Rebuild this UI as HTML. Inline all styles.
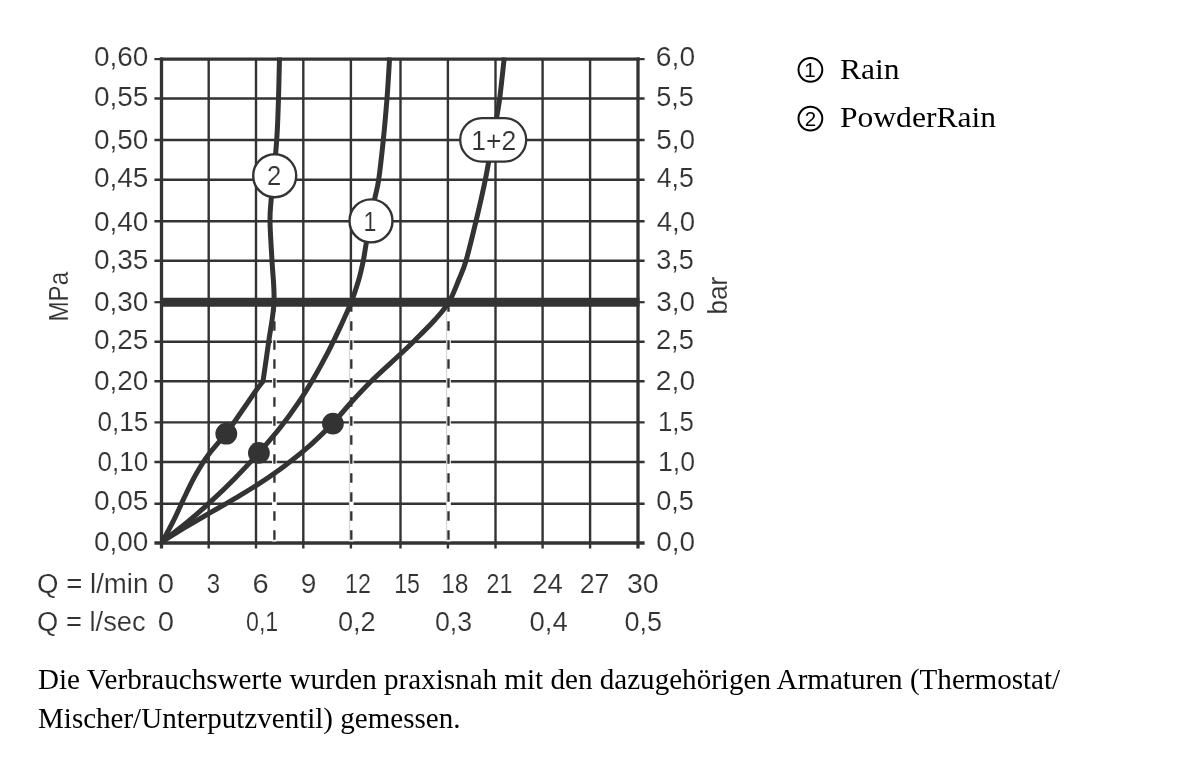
<!DOCTYPE html>
<html lang="de"><head><meta charset="utf-8"><title>Durchflussdiagramm</title>
<style>
html,body{margin:0;padding:0;background:#fff}
body{width:1200px;height:765px;position:relative;overflow:hidden;font-family:"Liberation Serif",serif;color:#000}
.t{position:absolute;white-space:nowrap;line-height:1}
.t{transform-origin:0 0}
.leg{font-size:30px;left:840px;transform:scaleX(1.052)}
.body{font-size:28.6px;left:37.9px;transform:scaleX(1.0174)}
</style></head><body>
<svg width="1200" height="765" viewBox="0 0 1200 765" style="position:absolute;left:0;top:0">
<g fill="none" stroke="#333333" stroke-width="2.4">
<path d="M154.4 98.5H644.6"/>
<path d="M154.4 140.0H644.6"/>
<path d="M154.4 179.7H644.6"/>
<path d="M154.4 221.2H644.6"/>
<path d="M154.4 260.7H644.6"/>
<path d="M154.4 341.7H644.6"/>
<path d="M154.4 381.2H644.6"/>
<path d="M154.4 422.4H644.6"/>
<path d="M154.4 462.0H644.6"/>
<path d="M154.4 503.7H644.6"/>
<path d="M208.7 59V548.6"/>
<path d="M256.0 59V548.6"/>
<path d="M303.3 59V548.6"/>
<path d="M350.9 59V548.6"/>
<path d="M400.5 59V548.6"/>
<path d="M447.9 59V548.6"/>
<path d="M495.5 59V548.6"/>
<path d="M542.6 59V548.6"/>
<path d="M590.1 59V548.6"/>
</g>
<g fill="none" stroke="#333333">
<path d="M154.4 59.1H161" stroke-width="2.2"/>
<path d="M638 59.1H644.6" stroke-width="2.2"/>
<path d="M159.85 59.1H639.65" stroke-width="3.4"/>
<path d="M154.4 543.0H644.6" stroke-width="3.3"/>
<path d="M161.5 57.5V548.6" stroke-width="3.3"/>
<path d="M638 57.5V548.6" stroke-width="3.3"/>
<path d="M154.4 302.2H161" stroke-width="2.2"/>
<path d="M160 302.2H639.5" stroke-width="9"/>
<path d="M638 302.2H644.6" stroke-width="2.2"/>
</g>
<path d="M274.4 307V541.4" stroke="#fff" stroke-width="4.6" fill="none"/>
<path d="M274.4 302.2V543" stroke="#333333" stroke-width="2.35" stroke-dasharray="9.6 9.4" fill="none"/>
<path d="M351.3 307V541.4" stroke="#fff" stroke-width="4.6" fill="none"/>
<path d="M349.40000000000003 307V541.4" stroke="#c4c4c4" stroke-width="0.8" fill="none"/>
<path d="M351.3 302.2V543" stroke="#333333" stroke-width="2.35" stroke-dasharray="9.6 9.4" fill="none"/>
<path d="M448.5 307V541.4" stroke="#fff" stroke-width="4.6" fill="none"/>
<path d="M446.6 307V541.4" stroke="#c4c4c4" stroke-width="0.8" fill="none"/>
<path d="M448.5 302.2V543" stroke="#333333" stroke-width="2.35" stroke-dasharray="9.6 9.4" fill="none"/>
<g fill="none" stroke="#333333" stroke-width="5" stroke-linejoin="round" stroke-linecap="butt">
<path d="M162.5 541.5C164.4 537.9 170.3 527.1 173.9 519.9C177.5 512.7 180.5 505.6 183.9 498.4C187.3 491.2 190.6 484.0 194.6 476.8C198.6 469.6 202.7 462.5 208.0 455.3C213.3 448.1 223.2 437.3 226.3 433.7C231.1 426.8 248.9 400.7 255.0 392.0C261.1 383.3 261.7 383.1 263.0 381.3C263.9 374.7 266.9 354.9 268.7 341.7C270.5 328.5 273.4 315.5 274.0 302.0C274.6 288.5 272.7 274.2 272.0 260.7C271.3 247.2 270.1 231.6 270.0 221.2C269.9 210.8 270.4 209.4 271.3 198.0C272.2 186.6 274.7 164.0 275.7 152.7C276.7 141.4 276.8 139.0 277.3 130.0C277.8 121.0 278.1 110.6 278.5 98.5C278.9 86.4 279.3 64.3 279.5 57.5"/>
<path d="M162.5 541.5C166.5 538.4 178.6 529.3 186.6 522.7C194.6 516.1 202.7 509.1 210.7 501.7C218.7 494.3 226.8 486.5 234.8 478.4C242.8 470.3 254.9 457.1 258.9 452.9C262.4 448.7 273.5 436.2 280.1 427.8C286.7 419.4 292.7 411.0 298.4 402.6C304.1 394.2 309.2 385.8 314.1 377.4C319.0 369.0 323.5 360.7 327.9 352.3C332.2 343.9 336.3 335.5 340.2 327.1C344.1 318.7 349.6 306.2 351.5 302.0C352.7 298.3 356.7 286.9 358.7 280.0C360.7 273.1 362.0 266.9 363.3 260.7C364.6 254.5 365.0 249.8 366.3 243.0C367.6 236.2 369.6 227.4 371.0 220.0C372.4 212.6 373.4 205.4 374.7 198.7C376.0 192.0 377.3 189.5 378.7 179.7C380.1 169.9 381.9 153.5 383.3 140.0C384.7 126.5 385.9 112.2 387.0 98.5C388.1 84.8 389.2 64.3 389.6 57.5"/>
<path d="M162.5 541.5C166.6 539.0 178.7 531.3 186.8 526.4C194.9 521.5 203.1 516.9 211.2 512.2C219.3 507.5 227.4 503.0 235.5 498.1C243.6 493.2 251.8 488.4 259.9 483.1C268.0 477.8 276.1 472.3 284.2 466.2C292.3 460.1 300.5 453.8 308.6 446.7C316.7 439.6 328.8 427.5 332.9 423.6C336.0 420.0 345.1 409.1 351.5 402.0C357.9 394.9 363.2 389.1 371.2 381.2C379.2 373.3 392.7 361.4 399.7 354.8C406.7 348.2 407.6 347.5 413.4 341.7C419.2 335.9 428.8 326.6 434.7 320.0C440.6 313.4 445.0 308.7 449.0 302.0C453.0 295.3 455.9 286.9 458.7 280.0C461.5 273.1 463.1 270.5 466.0 260.7C468.9 250.9 472.8 234.7 476.0 221.2C479.2 207.7 482.6 193.2 485.3 179.7C488.1 166.2 490.6 150.4 492.5 140.0C494.4 129.6 495.5 124.2 496.7 117.3C497.9 110.4 498.4 108.5 499.7 98.5C501.0 88.5 503.5 64.3 504.3 57.5"/>
</g>
<circle cx="226.3" cy="433.7" r="10.9" fill="#333333"/>
<circle cx="258.9" cy="452.9" r="10.9" fill="#333333"/>
<circle cx="332.9" cy="423.6" r="10.9" fill="#333333"/>
<circle cx="274.7" cy="175.7" r="21.5" fill="#fff" stroke="#333333" stroke-width="2.4"/>
<circle cx="371" cy="220.9" r="21.5" fill="#fff" stroke="#333333" stroke-width="2.4"/>
<rect x="460.2" y="118.1" width="66" height="43.5" rx="21.75" fill="#fff" stroke="#333333" stroke-width="2.3"/>
<g fill="#333333" font-family="'Liberation Sans', sans-serif" font-size="27.0" stroke="#fff" stroke-width="0.15" style="font-kerning:none">
<text x="93.91" y="65.9" textLength="54.49" lengthAdjust="spacingAndGlyphs">0,60</text>
<text x="93.90" y="105.8" textLength="54.57" lengthAdjust="spacingAndGlyphs">0,55</text>
<text x="93.91" y="149.1" textLength="54.49" lengthAdjust="spacingAndGlyphs">0,50</text>
<text x="93.90" y="186.7" textLength="54.57" lengthAdjust="spacingAndGlyphs">0,45</text>
<text x="93.91" y="230.6" textLength="54.49" lengthAdjust="spacingAndGlyphs">0,40</text>
<text x="93.90" y="268.6" textLength="54.57" lengthAdjust="spacingAndGlyphs">0,35</text>
<text x="93.91" y="311.1" textLength="54.49" lengthAdjust="spacingAndGlyphs">0,30</text>
<text x="93.90" y="349.3" textLength="54.57" lengthAdjust="spacingAndGlyphs">0,25</text>
<text x="93.91" y="390.0" textLength="54.49" lengthAdjust="spacingAndGlyphs">0,20</text>
<text x="97.58" y="430.8" textLength="50.82" lengthAdjust="spacingAndGlyphs">0,15</text>
<text x="97.58" y="470.6" textLength="50.74" lengthAdjust="spacingAndGlyphs">0,10</text>
<text x="93.90" y="510.3" textLength="54.57" lengthAdjust="spacingAndGlyphs">0,05</text>
<text x="93.91" y="551.4" textLength="54.49" lengthAdjust="spacingAndGlyphs">0,00</text>
<text x="655.87" y="65.9" textLength="39.24" lengthAdjust="spacingAndGlyphs">6,0</text>
<text x="656.21" y="105.8" textLength="37.73" lengthAdjust="spacingAndGlyphs">5,5</text>
<text x="656.18" y="149.1" textLength="38.91" lengthAdjust="spacingAndGlyphs">5,0</text>
<text x="656.69" y="186.7" textLength="37.24" lengthAdjust="spacingAndGlyphs">4,5</text>
<text x="656.67" y="230.6" textLength="38.41" lengthAdjust="spacingAndGlyphs">4,0</text>
<text x="656.27" y="268.6" textLength="37.67" lengthAdjust="spacingAndGlyphs">3,5</text>
<text x="656.24" y="311.1" textLength="38.86" lengthAdjust="spacingAndGlyphs">3,0</text>
<text x="655.92" y="349.3" textLength="38.02" lengthAdjust="spacingAndGlyphs">2,5</text>
<text x="655.88" y="390.0" textLength="39.22" lengthAdjust="spacingAndGlyphs">2,0</text>
<text x="658.04" y="430.8" textLength="35.85" lengthAdjust="spacingAndGlyphs">1,5</text>
<text x="657.97" y="470.6" textLength="37.07" lengthAdjust="spacingAndGlyphs">1,0</text>
<text x="656.24" y="510.3" textLength="37.70" lengthAdjust="spacingAndGlyphs">0,5</text>
<text x="656.21" y="551.4" textLength="38.89" lengthAdjust="spacingAndGlyphs">0,0</text>
<text x="37.09" y="593.1" textLength="111.30" lengthAdjust="spacingAndGlyphs">Q = l/min</text>
<text x="157.86" y="593.1" textLength="16.29" lengthAdjust="spacingAndGlyphs">0</text>
<text x="206.68" y="593.1" textLength="13.37" lengthAdjust="spacingAndGlyphs">3</text>
<text x="252.53" y="593.1" textLength="16.15" lengthAdjust="spacingAndGlyphs">6</text>
<text x="300.68" y="593.1" textLength="15.65" lengthAdjust="spacingAndGlyphs">9</text>
<text x="344.99" y="593.1" textLength="25.83" lengthAdjust="spacingAndGlyphs">12</text>
<text x="394.19" y="593.1" textLength="25.83" lengthAdjust="spacingAndGlyphs">15</text>
<text x="441.13" y="593.1" textLength="27.34" lengthAdjust="spacingAndGlyphs">18</text>
<text x="486.57" y="593.1" textLength="25.83" lengthAdjust="spacingAndGlyphs">21</text>
<text x="532.22" y="593.1" textLength="30.59" lengthAdjust="spacingAndGlyphs">24</text>
<text x="579.66" y="593.1" textLength="29.68" lengthAdjust="spacingAndGlyphs">27</text>
<text x="626.91" y="593.1" textLength="31.81" lengthAdjust="spacingAndGlyphs">30</text>
<text x="37.11" y="631.4" textLength="108.62" lengthAdjust="spacingAndGlyphs">Q = l/sec</text>
<text x="157.86" y="631.4" textLength="16.29" lengthAdjust="spacingAndGlyphs">0</text>
<text x="245.97" y="631.4" textLength="32.28" lengthAdjust="spacingAndGlyphs">0,1</text>
<text x="337.94" y="631.4" textLength="37.83" lengthAdjust="spacingAndGlyphs">0,2</text>
<text x="434.95" y="631.4" textLength="37.22" lengthAdjust="spacingAndGlyphs">0,3</text>
<text x="529.52" y="631.4" textLength="38.28" lengthAdjust="spacingAndGlyphs">0,4</text>
<text x="624.54" y="631.4" textLength="37.59" lengthAdjust="spacingAndGlyphs">0,5</text>
<text x="267.01" y="184.9" textLength="14.28" lengthAdjust="spacingAndGlyphs">2</text>
<text x="363.38" y="231.3" textLength="12.91" lengthAdjust="spacingAndGlyphs">1</text>
<text x="471.28" y="150.4" textLength="45.06" lengthAdjust="spacingAndGlyphs">1+2</text>
<text transform="translate(67.9 319.6) rotate(-90)" x="-1.99" y="0" font-size="28" textLength="49.79" lengthAdjust="spacingAndGlyphs">MPa</text>
<text transform="translate(726.8 312.9) rotate(-90)" x="-1.68" y="0" font-size="28" textLength="37.72" lengthAdjust="spacingAndGlyphs">bar</text>
</g>
<g fill="none" stroke="#000" stroke-width="2">
<circle cx="810.4" cy="69.8" r="11.9"/><circle cx="810.4" cy="118.6" r="11.9"/>
</g>
<g fill="#000" font-family="'Liberation Sans', sans-serif" font-size="20.5" text-anchor="middle">
<text x="809.9" y="76.8">1</text><text x="810.5" y="125.6">2</text>
</g>
</svg>
<div class="t leg" style="top:53.7px">Rain</div>
<div class="t leg" style="top:102.1px">PowderRain</div>
<div class="t body" style="top:666.35px">Die Verbrauchswerte wurden praxisnah mit den dazugehörigen Armaturen (Thermostat/</div>
<div class="t body" style="top:705.1px;transform:scaleX(1.0152)">Mischer/Unterputzventil) gemessen.</div>
</body></html>
